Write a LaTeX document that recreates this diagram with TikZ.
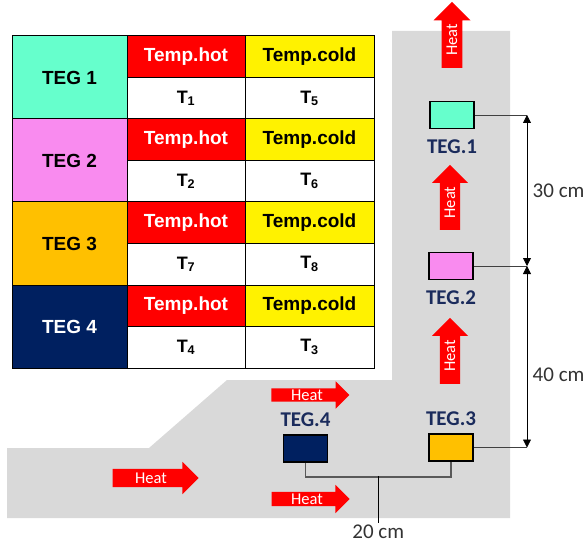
\documentclass[tikz,border=0pt]{standalone}
\usepackage{fontspec}
\setmainfont{Liberation Sans}
\newfontfamily\calibri{Carlito}
\usetikzlibrary{arrows.meta,positioning,shapes.arrows,calc}

\definecolor{aqua}{HTML}{66FFCC}
\definecolor{pinkteg}{HTML}{F98BEF}
\definecolor{goldteg}{HTML}{FFC000}
\definecolor{navyteg}{HTML}{002060}
\definecolor{tegtxt}{HTML}{1A2B5C}
\definecolor{ground}{HTML}{D9D9D9}

\begin{document}
\begin{tikzpicture}[
  x=1pt, y=1pt, >={Triangle[width=8pt,length=8pt]},
  cell/.style={draw, line width=1pt, outer sep=0pt, inner sep=0pt, anchor=north west,
               font=\fontsize{19}{21}\selectfont\bfseries},
  teg/.style={cell, minimum width=115pt, minimum height=83pt},
  hot/.style={cell, fill=red, text=white, minimum width=118pt, minimum height=41.5pt},
  cold/.style={cell, fill=yellow, minimum width=129pt, minimum height=41.5pt},
  tval/.style={cell, fill=white, minimum height=41.5pt, font=\fontsize{18}{20}\selectfont\bfseries},
  box/.style={draw, line width=1.5pt, minimum width=44pt, minimum height=27pt, inner sep=0pt},
  lbl/.style={font=\calibri\fontsize{21}{22}\selectfont\bfseries, text=tegtxt, inner sep=0pt},
  heat/.style={single arrow, fill=red, text=white, inner xsep=3pt, inner ysep=3.5pt,
               font=\calibri\fontsize{16.5}{16.5}\selectfont},
  dimtxt/.style={font=\calibri\fontsize{21}{22}\selectfont, text=black!80},
  ext/.style={draw=black!75, line width=0.8pt},
  brk/.style={draw=black!65, line width=1.5pt}]

  \useasboundingbox (0,0) rectangle (588,544);

  % --- channel (grey) ---
  \fill[ground] (392,513) -- (510,513) -- (510,26) -- (7,26) -- (7,96)
    -- (149,96) -- (227,164) -- (392,164) -- cycle;

  % --- table ---
  \node[teg, fill=aqua] (t1) at (12,508) {TEG 1};
  \node[hot] (h1) at (t1.north east) {Temp.hot};
  \node[cold] (c1) at (h1.north east) {Temp.cold};
  \node[tval, minimum width=118pt] (th1) at (h1.south west) {T\textsubscript{1}};
  \node[tval, minimum width=129pt] (tc1) at (c1.south west) {T\textsubscript{5}};

  \node[teg, fill=pinkteg] (t2) at (t1.south west) {TEG 2};
  \node[hot] (h2) at (t2.north east) {Temp.hot};
  \node[cold] (c2) at (h2.north east) {Temp.cold};
  \node[tval, minimum width=118pt] (th2) at (h2.south west) {T\textsubscript{2}};
  \node[tval, minimum width=129pt] (tc2) at (c2.south west) {T\textsubscript{6}};

  \node[teg, fill=goldteg] (t3) at (t2.south west) {TEG 3};
  \node[hot] (h3) at (t3.north east) {Temp.hot};
  \node[cold] (c3) at (h3.north east) {Temp.cold};
  \node[tval, minimum width=118pt] (th3) at (h3.south west) {T\textsubscript{7}};
  \node[tval, minimum width=129pt] (tc3) at (c3.south west) {T\textsubscript{8}};

  \node[teg, fill=navyteg, text=white] (t4) at (t3.south west) {TEG 4};
  \node[hot] (h4) at (t4.north east) {Temp.hot};
  \node[cold] (c4) at (h4.north east) {Temp.cold};
  \node[tval, minimum width=118pt] (th4) at (h4.south west) {T\textsubscript{4}};
  \node[tval, minimum width=129pt] (tc4) at (c4.south west) {T\textsubscript{3}};

  % --- TEG modules in the channel ---
  \node[box, fill=aqua] (teg1) at (452,429) {};
  \node[box, fill=pinkteg] (teg2) at (451,278) {};
  \node[box, fill=goldteg] (teg3) at (451,96.5) {};
  \node[box, fill=navyteg] (teg4) at (305.5,95.5) {};
  \node[lbl, below=10pt of teg1] (l1) {TEG.1};
  \node[lbl, below=10pt of teg2] (l2) {TEG.2};
  \node[lbl, above=7pt of teg3] (l3) {TEG.3};
  \node[lbl, above=7pt of teg4] (l4) {TEG.4};

  % --- heat flow ---
  \node[heat, rotate=90, minimum height=66pt, minimum width=37pt] (q1) at (452,504) {Heat};
  \node[heat, rotate=90, minimum height=65pt, minimum width=36pt] (q2) at (450,341.5) {Heat};
  \node[heat, rotate=90, minimum height=66pt, minimum width=36pt] (q3) at (450,188) {Heat};
  \node[heat, inner ysep=1pt, minimum height=78pt, minimum width=23pt] (q4) at (307,149) {Heat};
  \node[heat, inner ysep=1.5pt, minimum height=78pt, minimum width=27pt] (q5) at (307,45) {Heat};
  \node[heat, minimum height=86pt, minimum width=32pt] (q6) at (151,66) {Heat};

  % --- dimensions ---
  \coordinate (dimx) at (527,0);
  \draw[ext] (teg1.east) -- (teg1.east -| dimx);
  \draw[ext] (teg2.east) -- (teg2.east -| dimx);
  \draw[ext] (teg3.east) -- (teg3.east -| dimx);
  \draw[<->, line width=0.8pt] (teg1.east -| dimx) -- (teg2.east -| dimx)
    node[midway, right=2pt, dimtxt] {30 cm};
  \draw[<->, line width=0.8pt] (teg2.east -| dimx) -- (teg3.east -| dimx)
    node[pos=0.6, right=2pt, dimtxt] {40 cm};

  \draw[brk] (teg4.south) -- ++(0,-14) -| (teg3.south);
  \coordinate (bm) at ($(teg4.south)!0.5!(teg3.south) + (0,-14)$);
  \draw[line width=0.8pt] (bm) -- ++(0,-47) node[below=0pt, inner sep=1pt, dimtxt] {20 cm};
\end{tikzpicture}
\end{document}
